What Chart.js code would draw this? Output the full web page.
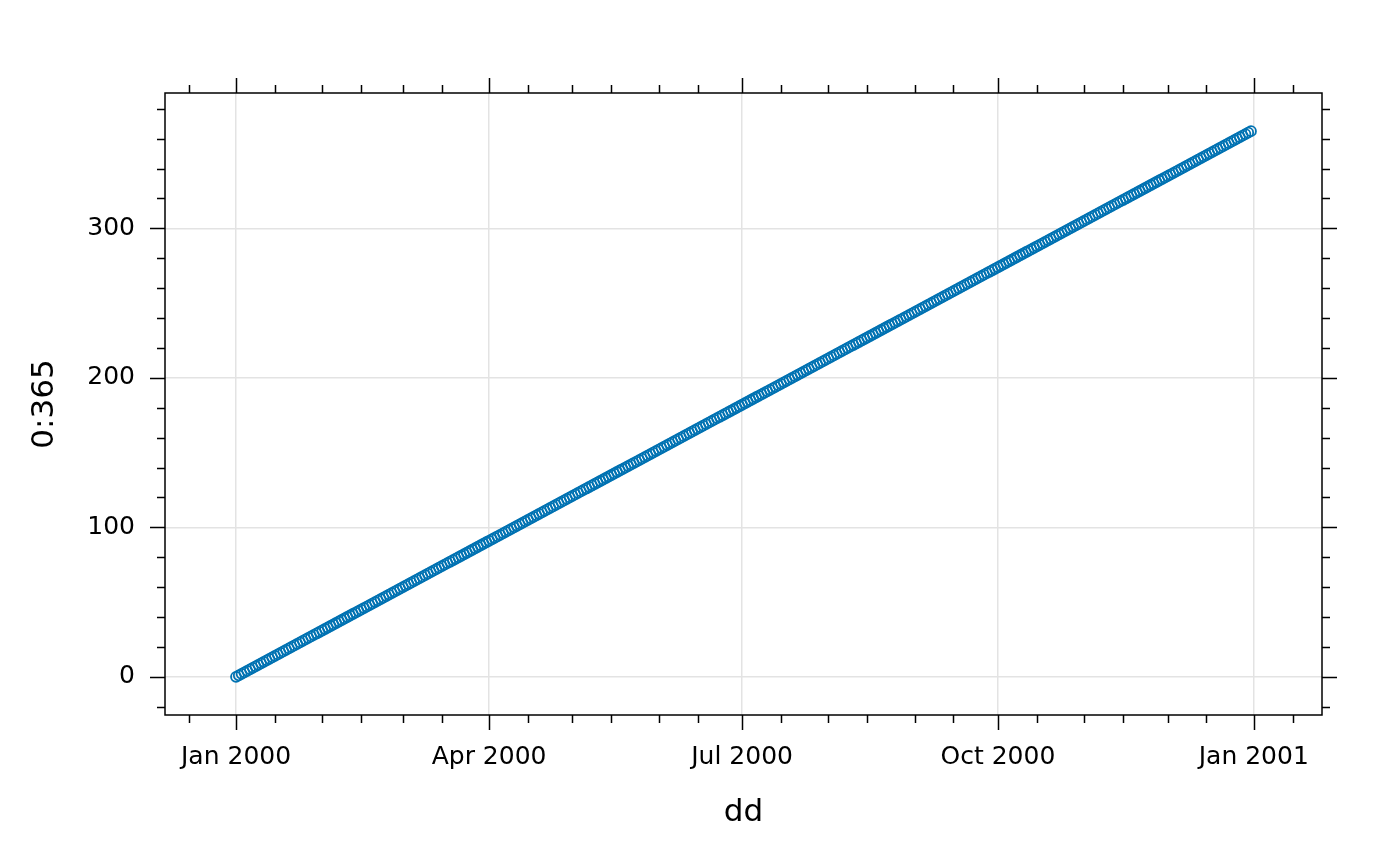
<!DOCTYPE html>
<html>
<head>
<meta charset="utf-8">
<script src="https://cdn.jsdelivr.net/npm/chart.js@4.4.1/dist/chart.umd.min.js"></script>
<style>
  html, body { margin: 0; padding: 0; background: #fff; }
  #wrap { width: 1400px; height: 866px; }
</style>
</head>
<body>
<div id="wrap"><canvas id="c" width="1400" height="866"></canvas></div>
<script>
// day offset from 1 Jan 2000 (x) and the value 0:365 (y) -- same sequence
const values = [
  0,1,2,3,4,5,6,7,8,9,10,11,12,13,14,15,16,17,18,19,
  20,21,22,23,24,25,26,27,28,29,30,31,32,33,34,35,36,37,38,39,
  40,41,42,43,44,45,46,47,48,49,50,51,52,53,54,55,56,57,58,59,
  60,61,62,63,64,65,66,67,68,69,70,71,72,73,74,75,76,77,78,79,
  80,81,82,83,84,85,86,87,88,89,90,91,92,93,94,95,96,97,98,99,
  100,101,102,103,104,105,106,107,108,109,110,111,112,113,114,115,116,117,118,119,
  120,121,122,123,124,125,126,127,128,129,130,131,132,133,134,135,136,137,138,139,
  140,141,142,143,144,145,146,147,148,149,150,151,152,153,154,155,156,157,158,159,
  160,161,162,163,164,165,166,167,168,169,170,171,172,173,174,175,176,177,178,179,
  180,181,182,183,184,185,186,187,188,189,190,191,192,193,194,195,196,197,198,199,
  200,201,202,203,204,205,206,207,208,209,210,211,212,213,214,215,216,217,218,219,
  220,221,222,223,224,225,226,227,228,229,230,231,232,233,234,235,236,237,238,239,
  240,241,242,243,244,245,246,247,248,249,250,251,252,253,254,255,256,257,258,259,
  260,261,262,263,264,265,266,267,268,269,270,271,272,273,274,275,276,277,278,279,
  280,281,282,283,284,285,286,287,288,289,290,291,292,293,294,295,296,297,298,299,
  300,301,302,303,304,305,306,307,308,309,310,311,312,313,314,315,316,317,318,319,
  320,321,322,323,324,325,326,327,328,329,330,331,332,333,334,335,336,337,338,339,
  340,341,342,343,344,345,346,347,348,349,350,351,352,353,354,355,356,357,358,359,
  360,361,362,363,364,365
];

// x axis: days since 1 Jan 2000
const xTicks = [0, 91, 182, 274, 366];
const xTickLabels = ["Jan 2000", "Apr 2000", "Jul 2000", "Oct 2000", "Jan 2001"];
// 1st and 15th of each month
const xMinorTicks = [-17, 0, 14, 31, 45, 60, 74, 91, 105, 121, 135, 152, 166, 182, 196,
  213, 227, 244, 258, 274, 288, 305, 319, 335, 349, 366, 380];

const yTicks = [0, 100, 200, 300];
const yMinorTicks = [-20, 0, 20, 40, 60, 80, 100, 120, 140, 160, 180, 200, 220, 240, 260,
  280, 300, 320, 340, 360, 380];

const axisMin = -25.55;
const axisMax = 390.55;

const points = values.map((v, i) => ({ x: values[i], y: v }));

const FONT = "'DejaVu Sans', sans-serif";
Chart.defaults.font.family = FONT;
Chart.defaults.color = '#000';

// lattice-style box with ticks on all four sides
const boxTicks = {
  id: 'boxTicks',
  afterDraw(chart) {
    const { ctx, chartArea: a, scales: { x, y } } = chart;
    ctx.save();
    ctx.strokeStyle = '#000';
    ctx.lineWidth = 1.5;
    ctx.strokeRect(a.left, a.top, a.right - a.left, a.bottom - a.top);
    ctx.beginPath();
    xMinorTicks.forEach(d => {
      const px = Math.round(x.getPixelForValue(d)) + 0.5;
      const len = xTicks.includes(d) ? 15 : 8;
      ctx.moveTo(px, a.bottom); ctx.lineTo(px, a.bottom + len);
      ctx.moveTo(px, a.top); ctx.lineTo(px, a.top - len);
    });
    yMinorTicks.forEach(v => {
      const py = Math.round(y.getPixelForValue(v)) + 0.5;
      const len = yTicks.includes(v) ? 15 : 8;
      ctx.moveTo(a.left, py); ctx.lineTo(a.left - len, py);
      ctx.moveTo(a.right, py); ctx.lineTo(a.right + len, py);
    });
    ctx.stroke();
    ctx.restore();
  }
};

new Chart(document.getElementById('c'), {
  type: 'scatter',
  data: {
    datasets: [{
      data: points,
      pointStyle: 'circle',
      pointRadius: 5,
      pointBorderWidth: 1.8,
      borderColor: '#0072B2',
      backgroundColor: 'rgba(0,0,0,0)'
    }]
  },
  options: {
    responsive: false,
    animation: false,
    layout: { padding: { top: 93, right: 78, left: 0, bottom: 0 } },
    plugins: { legend: { display: false }, tooltip: { enabled: false } },
    scales: {
      x: {
        type: 'linear',
        min: axisMin,
        max: axisMax,
        afterBuildTicks: s => { s.ticks = xTicks.map(v => ({ value: v })); },
        afterFit: s => { s.height = 151; },
        ticks: {
          font: { size: 25 },
          padding: 27,
          maxRotation: 0,
          autoSkip: false,
          callback: (v, i) => xTickLabels[i]
        },
        grid: { color: '#e3e3e3', lineWidth: 1.5, drawTicks: false },
        border: { display: false },
        title: {
          display: true,
          text: 'dd',
          font: { size: 31 },
          padding: { top: 0, bottom: 34 }
        }
      },
      y: {
        type: 'linear',
        min: axisMin,
        max: axisMax,
        afterBuildTicks: s => { s.ticks = yTicks.map(v => ({ value: v })); },
        afterFit: s => { s.width = 165; },
        ticks: {
          font: { size: 25 },
          padding: 30,
          callback: v => String(v)
        },
        grid: { color: '#e3e3e3', lineWidth: 1.5, drawTicks: false },
        border: { display: false },
        title: {
          display: true,
          text: '0:365',
          font: { size: 31 },
          padding: { top: 26, bottom: 0 }
        }
      }
    }
  },
  plugins: [boxTicks]
});
</script>
</body>
</html>
